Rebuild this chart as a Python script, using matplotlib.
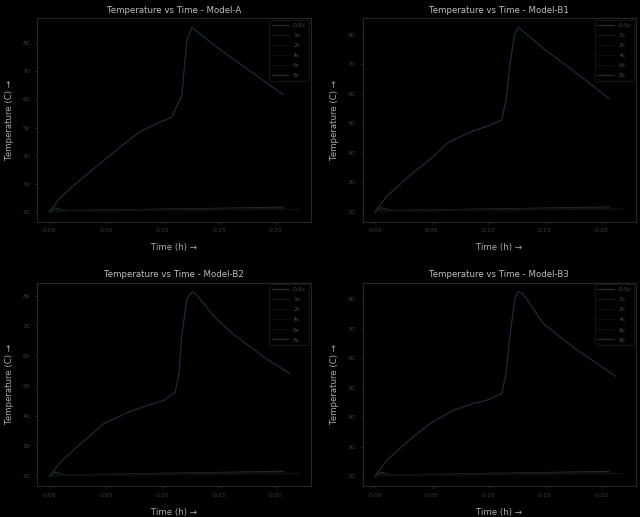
import numpy as np
import matplotlib
matplotlib.use("Agg")
import matplotlib.pyplot as plt

# C-rate labels and line colours (the chart uses very dark lines on black)
rates = ["0.5c", "1c", "2c", "4c", "6c", "8c"]
colors = ["#17382a", "#1c0f0f", "#0f0f0f", "#0e0e0e", "#101010", "#142f3c"]

models = ["Model-A", "Model-B1", "Model-B2", "Model-B3"]

# 8c curves (time in h, temperature in C)
hot_t = {
    "Model-A": [0.0, 0.008, 0.0185, 0.045, 0.0685, 0.080, 0.095, 0.108, 0.117,
                0.1215, 0.126, 0.148, 0.1685, 0.2067],
    "Model-B1": [0.0, 0.0103, 0.0294, 0.0515, 0.0647, 0.0853, 0.0985, 0.112,
                 0.116, 0.119, 0.1235, 0.127, 0.131, 0.151, 0.175, 0.2068],
    "Model-B2": [0.0, 0.0094, 0.024, 0.0476, 0.0697, 0.086, 0.1006, 0.111,
                 0.1145, 0.1168, 0.1212, 0.124, 0.1265, 0.129, 0.133, 0.1477,
                 0.1624, 0.192, 0.2125],
    "Model-B3": [0.0, 0.0103, 0.028, 0.0485, 0.069, 0.0867, 0.100, 0.112,
                 0.1155, 0.1185, 0.1235, 0.1255, 0.1273, 0.130, 0.1338, 0.1485,
                 0.175, 0.2126],
}
hot_T = {
    "Model-A": [20.0, 24.3, 28.4, 37.3, 45.0, 48.5, 51.5, 53.6, 61.5,
                81.0, 85.7, 78.6, 72.7, 61.7],
    "Model-B1": [20.0, 25.2, 31.9, 38.7, 43.5, 47.2, 48.9, 51.1,
                 58.0, 69.2, 80.5, 82.6, 81.2, 74.8, 68.0, 58.5],
    "Model-B2": [20.0, 24.6, 29.6, 37.4, 41.3, 43.5, 45.1, 47.9,
                 54.0, 66.2, 78.4, 80.6, 81.4, 80.9, 79.0, 72.3,
                 67.3, 59.0, 54.2],
    "Model-B3": [20.0, 25.3, 31.5, 37.8, 42.3, 44.6, 45.9, 48.0,
                 54.0, 65.0, 79.7, 82.0, 82.5, 82.0, 80.3, 71.8,
                 63.8, 53.9],
}

# low-rate curves stay close to ambient
low_t = [0.0, 0.005, 0.015, 0.05, 0.10, 0.15, 0.207]
low_T = {
    "0.5c": [19.8, 21.3, 20.4, 20.6, 20.9, 21.2, 21.6],
    "1c": [19.8, 21.0, 20.3, 20.5, 20.7, 21.0, 21.3],
    "2c": [19.9, 20.4, 20.3, 20.4, 20.6, 20.8, 21.1],
    "4c": [19.9, 20.3, 20.2, 20.3, 20.5, 20.7, 20.9],
}
long_t = [0.0, 0.01, 0.05, 0.10, 0.15, 0.22]
long_T = [19.9, 20.2, 20.3, 20.5, 20.7, 20.9]

plt.rcParams["font.family"] = ["DejaVu Sans"]
fig, axes = plt.subplots(2, 2, figsize=(6.4, 5.17), dpi=100, facecolor="black")
fig.subplots_adjust(left=0.058, right=0.994, top=0.965, bottom=0.06,
                    wspace=0.19, hspace=0.30)

for ax, model in zip(axes.flat, models):
    ax.set_facecolor("black")
    for rate, c in zip(rates, colors):
        if rate == "8c":
            ax.plot(hot_t[model], hot_T[model], color=c, lw=0.9, label=rate)
        elif rate == "6c":
            ax.plot(long_t, long_T, color=c, lw=0.9, label=rate)
        else:
            ax.plot(low_t, low_T[rate], color=c, lw=0.9, label=rate)

    ax.set_title("Temperature vs Time - " + model, color="#bdbdbd",
                 fontsize=6.2, pad=4)
    ax.set_xlabel("Time (h) →", color="#ababab", fontsize=6.2, labelpad=7)
    ax.set_ylabel("Temperature (C) →", color="#ababab", fontsize=6.2, labelpad=6)
    ax.set_xticks([0.0, 0.05, 0.10, 0.15, 0.20])
    ax.set_yticks([20, 30, 40, 50, 60, 70, 80])
    ax.tick_params(colors="#3c3c3c", labelsize=4.5, length=1.5, width=0.5)
    for s in ax.spines.values():
        s.set_color("#262626")
        s.set_linewidth(0.8)
    leg = ax.legend(loc="upper right", fontsize=4.5, facecolor="black",
                    edgecolor="#202020", labelcolor="#4a4a4a",
                    handlelength=2.6, borderaxespad=0.3, labelspacing=0.75)
    leg.get_frame().set_linewidth(0.6)

fig.savefig("out.png", dpi=100, facecolor="black")
